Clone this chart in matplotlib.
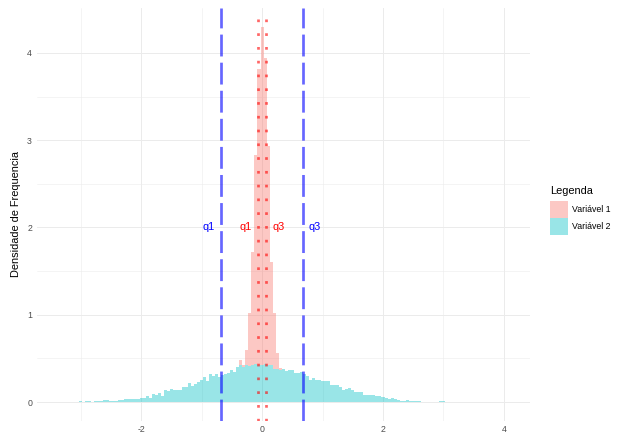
import numpy as np
import matplotlib
matplotlib.use("Agg")
import matplotlib.pyplot as plt
from matplotlib.patches import Rectangle

plt.rcParams['font.family'] = ['Liberation Sans', 'DejaVu Sans']
plt.rcParams['axes.unicode_minus'] = False

# histogram bins (binwidth 0.05, centred on multiples of 0.05)
binwidth = 0.05
k_first = -67          # first bin index of Variável 2
k_first_v1 = -7        # first bin index of Variável 1

# Variável 2 densities (k = -67 .. 81)
var2 = [
    0.004, 0.0, 0.002, 0.004, 0.004, 0.0, 0.004,
    0.007, 0.004, 0.007, 0.007, 0.004, 0.008, 0.011, 0.008, 0.019, 0.027,
    0.011, 0.011, 0.015, 0.023, 0.023, 0.031, 0.031, 0.031, 0.034, 0.034,
    0.050, 0.042, 0.065, 0.050, 0.096, 0.084, 0.103, 0.065, 0.141, 0.126,
    0.149, 0.134, 0.141, 0.141, 0.168, 0.172, 0.218, 0.180, 0.210, 0.230,
    0.256, 0.287, 0.240, 0.317, 0.294, 0.325, 0.287, 0.310, 0.325, 0.330,
    0.370, 0.344, 0.400, 0.420, 0.400, 0.420, 0.410, 0.430, 0.440, 0.430,
    0.420, 0.440, 0.420, 0.420, 0.380, 0.380, 0.363, 0.380, 0.355, 0.370,
    0.370, 0.336, 0.336, 0.340, 0.317, 0.294, 0.256, 0.279, 0.248, 0.256,
    0.237, 0.237, 0.237, 0.200, 0.190, 0.200, 0.170, 0.134, 0.153, 0.164,
    0.134, 0.110, 0.110, 0.110, 0.076, 0.076, 0.076, 0.076, 0.065, 0.065,
    0.057, 0.046, 0.038, 0.050, 0.038, 0.027, 0.011, 0.011, 0.019, 0.011,
    0.015, 0.015, 0.008, 0.004, 0.004, 0.004, 0.004, 0.004, 0.004, 0.008,
    0.008, 0.002, 0.002, 0.0, 0.002, 0.002, 0.0, 0.002, 0.0, 0.002,
    0.0, 0.002, 0.0, 0.002, 0.0, 0.0, 0.002, 0.0, 0.0, 0.002, 0.0, 0.002,
]

# Variável 1 densities (k = -7 .. 6), stacked on top of Variável 2
var1 = [0.06, 0.02, 0.18, 0.61, 1.29, 2.39, 3.39, 3.88, 3.50, 2.51, 1.19, 0.64, 0.18, 0.03]

# quartiles
q_v1 = [-0.066, 0.066]
q_v2 = [-0.678, 0.673]

labels = ["Variável 1", "Variável 2"]
col1 = "#F8766D"
col2 = "#00BFC4"

var2 = np.array(var2)
var1 = np.array(var1)
edges2 = (np.arange(k_first, k_first + len(var2) + 1) - 0.5) * binwidth
edges1 = (np.arange(k_first_v1, k_first_v1 + len(var1) + 1) - 0.5) * binwidth
i0 = k_first_v1 - k_first
base1 = var2[i0:i0 + len(var1)]

W, H = 618, 435
fig = plt.figure(figsize=(W / 72, H / 72), dpi=72)
ax = fig.add_axes([37 / W, (H - 420.8) / H, (530 - 37) / W, (420.8 - 8) / H])

ax.set_xlim(-3.72, 4.43)
ax.set_ylim(-0.215, 4.515)

# grid
ax.set_xticks([-2, 0, 2, 4])
ax.set_xticks([-3, -1, 1, 3], minor=True)
ax.set_yticks([0, 1, 2, 3, 4])
ax.set_yticks([0.5, 1.5, 2.5, 3.5], minor=True)
ax.grid(True, which='major', color='#EBEBEB', linewidth=1.0)
ax.grid(True, which='minor', color='#EBEBEB', linewidth=0.5)
ax.set_axisbelow(True)
for s in ax.spines.values():
    s.set_visible(False)
ax.tick_params(which='both', length=0, labelsize=8.8, labelcolor='#4D4D4D')
ax.tick_params(axis='x', pad=4)
ax.tick_params(axis='y', pad=5)

ax.stairs(var2, edges2, baseline=0, fill=True, color=col2, alpha=0.4, linewidth=0)
ax.stairs(base1 + var1, edges1, baseline=base1, fill=True, color=col1, alpha=0.4, linewidth=0)

for q in q_v2:
    ax.axvline(q, color='blue', alpha=0.6, linewidth=2.7, linestyle=(0, (8.1, 2.3)))
for q in q_v1:
    ax.axvline(q, color='red', alpha=0.6, linewidth=2.7, linestyle=(0, (1, 4.1)))

ax.annotate("q1", xy=(q_v2[0], 2), xytext=(-6, 0), textcoords='offset points',
            ha='right', va='center', color='blue', fontsize=11)
ax.annotate("q3", xy=(q_v2[1], 2), xytext=(6, 0), textcoords='offset points',
            ha='left', va='center', color='blue', fontsize=11)
ax.annotate("q1", xy=(q_v1[0], 2), xytext=(-6, 0), textcoords='offset points',
            ha='right', va='center', color='red', fontsize=11)
ax.annotate("q3", xy=(q_v1[1], 2), xytext=(6, 0), textcoords='offset points',
            ha='left', va='center', color='red', fontsize=11)

ax.set_ylabel("Densidade de Frequencia", fontsize=11, color='black', labelpad=6)

# legend
fig.text(550.5 / W, 1 - 191 / H, "Legenda", fontsize=11, ha='left', va='center')
for i, (lab, c) in enumerate(zip(labels, [col1, col2])):
    y0 = 200.7 + i * 17.3
    fig.patches.append(Rectangle((550 / W, 1 - (y0 + 17.3) / H), 17.5 / W, 17.3 / H,
                                 transform=fig.transFigure, facecolor=c, alpha=0.4,
                                 linewidth=0))
    fig.text(572 / W, 1 - (y0 + 8.6) / H, lab, fontsize=8.8, ha='left', va='center')

fig.savefig("out.png", dpi=72)
